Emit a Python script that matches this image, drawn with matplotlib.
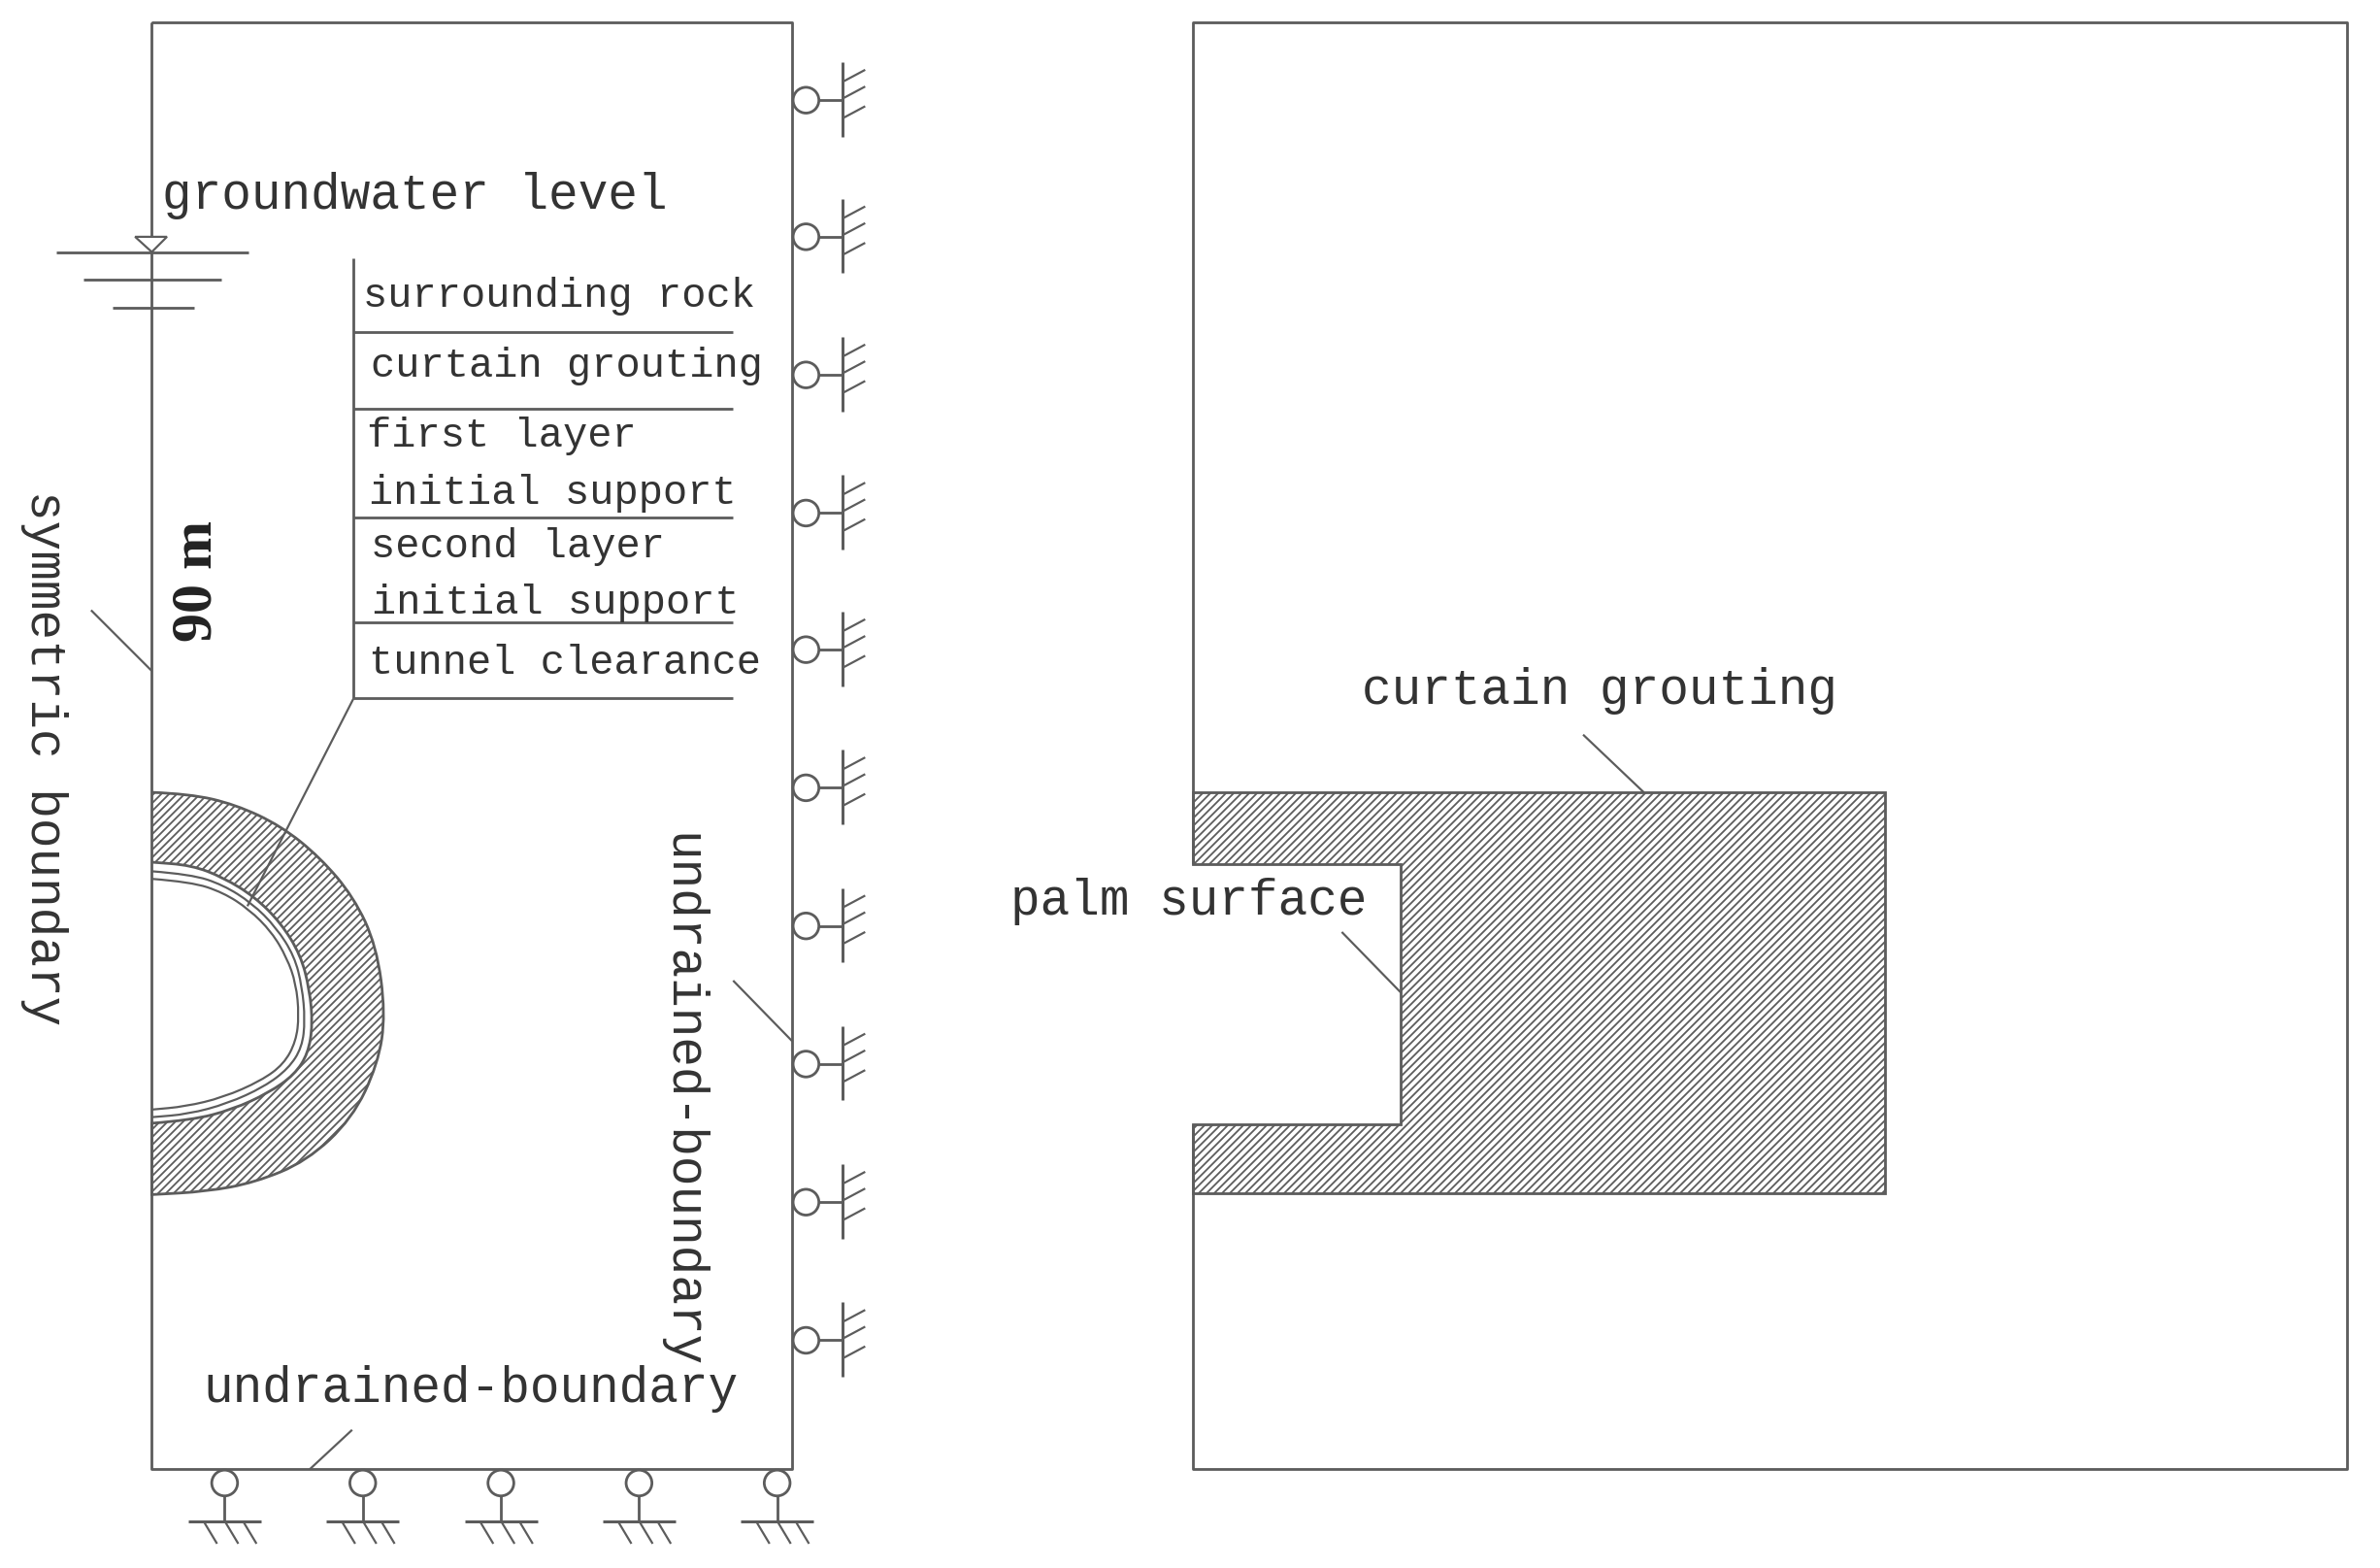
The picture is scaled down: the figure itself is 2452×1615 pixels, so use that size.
import matplotlib
matplotlib.use('Agg')
from matplotlib import pyplot as plt
from matplotlib.path import Path
from matplotlib.patches import PathPatch, Circle, Polygon

#Everything is in units of a 1568 x 1033 drawing
LINE = '#5c5c5c'
TEXTCOL = '#333333'
LW = 2.8

left_box = [(100, 15), (522, 15), (522, 968), (100, 968), (100, 15)]
#the left edge of the right box stops at the notch
right_box = [(786, 569), (786, 15), (1546, 15), (1546, 968), (786, 968), (786, 741)]
grout_block = [(786, 522), (1242, 522), (1242, 786), (786, 786), (786, 741), (923, 741), (923, 569), (786, 569)]

#Tunnel section
ring_outer = [(100, 522), (125, 523), (155, 530), (185, 544), (211, 565), (233, 591), (248, 623), (254, 668),
              (249, 701), (232, 737), (202, 765), (168, 779), (136, 785), (100, 787)]
lining_outer = [(100, 568), (126, 570), (147, 578), (168, 591), (185, 608), (198, 629), (204, 652), (206, 675),
                (203, 694), (194, 708), (177, 720), (153, 731), (126, 738), (100, 740)]
lining_mid = [(100, 574), (126, 576), (147, 583), (166, 595), (182, 611), (194, 630), (199, 650), (201, 672),
              (199, 690), (190, 704), (174, 716), (150, 727), (124, 734), (100, 736)]
lining_inner = [(100, 579), (126, 581), (147, 588), (164, 599), (179, 614), (189, 631), (195, 648), (197, 669),
                (195, 686), (187, 701), (172, 712), (147, 723), (122, 729), (100, 731)]

table_x = 233
table_right = 483
table_top = 170
table_rows = [219, 269, 341, 410, 460]

leaders = [[(233, 460), (163, 597)],
           [(60, 402), (100, 442)],
           [(483, 646), (522, 686)],
           [(232, 942), (204, 968)],
           [(1043, 484), (1083, 522)],
           [(884, 614), (923, 654)]]

water_lines = [(166, 37, 164), (184, 55, 146), (203, 74, 128)]
water_mark = [(89, 156), (110, 156), (100, 166)]

right_support_y = [66, 156, 247, 338, 428, 519, 610, 701, 792, 883]
bottom_support_x = [148, 239, 330, 421, 512]

#label, x, y
labels_big = [('groundwater level', 107, 129),
              ('undrained-boundary', 134, 915),
              ('curtain grouting', 897, 455),
              ('palm surface', 666, 594)]
labels_small = [('surrounding rock', 239, 195),
                ('curtain grouting', 244, 241),
                ('first layer', 242, 287),
                ('initial support', 243, 325),
                ('second layer', 244, 360),
                ('initial support', 245, 397),
                ('tunnel clearance', 243, 437)]
labels_turned = [('symmetric boundary', 29, 499),
                 ('undrained-boundary', 449, 725)]

plt.rcParams['hatch.linewidth'] = 1.8
plt.rcParams['font.family'] = ['Liberation Mono', 'DejaVu Sans']

fig = plt.figure(figsize=(2452 / 72, 1615 / 72), dpi=72)
ax = fig.add_axes([0, 0, 1, 1])
ax.set_xlim(0, 1568)
ax.set_ylim(1033, 0)
ax.axis('off')


def line(pts, lw=LW):
    ax.plot([p[0] for p in pts], [p[1] for p in pts], color=LINE, lw=lw, solid_capstyle='butt')


def smooth(pts):
    #Quadratic pieces between the midpoints of the listed points
    verts = [pts[0]]
    codes = [Path.MOVETO]
    for a, b in zip(pts[1:-1], pts[2:]):
        verts += [a, ((a[0] + b[0]) / 2, (a[1] + b[1]) / 2)]
        codes += [Path.CURVE3, Path.CURVE3]
    verts.append(pts[-1])
    codes.append(Path.LINETO)
    return verts, codes


line(left_box)
line(right_box)

#Hatched block on the right
ax.add_patch(Polygon(grout_block, closed=True, facecolor='white', edgecolor=LINE, hatch='///', lw=LW))

#Hatched ring of the tunnel
v1, c1 = smooth(ring_outer)
v2, c2 = smooth(lining_outer[::-1])
c2[0] = Path.LINETO
ax.add_patch(PathPatch(Path(v1 + v2, c1 + c2), facecolor='white', edgecolor=LINE, hatch='///', lw=LW))
for curve in [lining_mid, lining_inner]:
    v, c = smooth(curve)
    ax.add_patch(PathPatch(Path(v, c), facecolor='none', edgecolor=LINE, lw=2.2))

#Layer table
line([(table_x, table_top), (table_x, table_rows[-1])])
for y in table_rows:
    line([(table_x, y), (table_right, y)])
for pts in leaders:
    line(pts, lw=2.2)

#Water level sign
for y, x0, x1 in water_lines:
    line([(x0, y), (x1, y)])
ax.add_patch(Polygon(water_mark, closed=True, facecolor='white', edgecolor=LINE, lw=2.2, zorder=3))

#Supports on the right side
for y in right_support_y:
    ax.add_patch(Circle((531, y), 8.5, facecolor='white', edgecolor=LINE, lw=LW, zorder=3))
    line([(539, y), (555, y)])
    line([(555, y - 25), (555, y + 24)], lw=3)
    for d in [-12, -1, 12]:
        line([(555, y + d), (570, y + d - 8)], lw=2.2)

#Supports along the bottom
for x in bottom_support_x:
    ax.add_patch(Circle((x, 977), 8.5, facecolor='white', edgecolor=LINE, lw=LW, zorder=3))
    line([(x, 985), (x, 1002)])
    line([(x - 24, 1002), (x + 24, 1002)], lw=3)
    for d in [-14, 0, 12]:
        line([(x + d, 1002), (x + d + 9, 1017)], lw=2.2)

for s, x, y in labels_big:
    ax.text(x, y, s, fontsize=51, color=TEXTCOL, ha='left', va='center')
for s, x, y in labels_small:
    ax.text(x, y, s, fontsize=42, color=TEXTCOL, ha='left', va='center')
for s, x, y in labels_turned:
    ax.text(x, y, s, fontsize=51, color=TEXTCOL, ha='center', va='center', rotation=-90)
ax.text(130, 383, '90 m', fontsize=60, color='#222222', family='Liberation Serif', weight='bold',
        ha='center', va='center', rotation=90)

fig.savefig('out.png', dpi=72, facecolor='white')
